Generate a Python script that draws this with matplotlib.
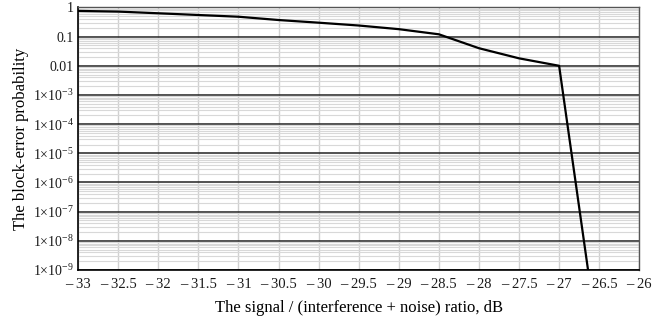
import numpy as np
import matplotlib
matplotlib.use("Agg")
import matplotlib.pyplot as plt
from matplotlib.ticker import FixedLocator, LogLocator, NullFormatter

plt.rcParams['font.family'] = ['Liberation Serif', 'DejaVu Serif']
plt.rcParams['mathtext.fontset'] = 'custom'
plt.rcParams['mathtext.rm'] = 'Liberation Serif'
plt.rcParams['mathtext.it'] = 'Liberation Serif:italic'

# signal / (interference + noise) ratio, dB
snr_db = [-33, -32.5, -32, -31.5, -31, -30.5, -30, -29.5, -29, -28.5,
          -28, -27.5, -27, -26.5]
# block-error probability
bler = [0.76, 0.72, 0.63, 0.55, 0.48, 0.37, 0.30, 0.24, 0.18, 0.12,
        0.04, 0.018, 0.01, 2e-12]

x_ticks = np.arange(-33, -25.9, 0.5)
y_ticks = [1, 0.1, 0.01, 1e-3, 1e-4, 1e-5, 1e-6, 1e-7, 1e-8, 1e-9]


def y_label(v):
    if v >= 0.01:
        return f"{v:g}"
    return r"1×10$^{\mathregular{-%d}}$" % round(-np.log10(v))


def x_label(v):
    s = f"{abs(v):g}"
    return "\u2013 " + s


fig = plt.figure(figsize=(6.68, 3.23), dpi=100)
ax = fig.add_axes([0.117, 0.164, 0.84, 0.813])

ax.plot(snr_db, bler, color='black', lw=1.6, zorder=5)

ax.set_yscale('log')
ax.set_xlim(-33, -26)
ax.set_ylim(1e-9, 1)

ax.xaxis.set_major_locator(FixedLocator(x_ticks))
ax.set_xticklabels([x_label(v) for v in x_ticks])
ax.yaxis.set_major_locator(FixedLocator(y_ticks))
ax.set_yticklabels([y_label(v) for v in y_ticks])
ax.yaxis.set_minor_locator(LogLocator(base=10, subs=np.arange(2, 10), numticks=20))
ax.yaxis.set_minor_formatter(NullFormatter())

ax.grid(True, axis='x', which='major', color='#d0d0d0', lw=1.0)
ax.grid(True, axis='y', which='minor', color='#d8d8d8', lw=0.8)
ax.grid(True, axis='y', which='major', color='#222222', lw=1.1)

ax.tick_params(which='both', length=0, labelsize=10, colors='#1a1a1a')
ax.tick_params(axis='x', pad=6, labelsize=10.5)
ax.tick_params(axis='y', pad=3)

for side in ['left', 'bottom']:
    ax.spines[side].set_color('black')
    ax.spines[side].set_linewidth(1.2)
for side in ['top', 'right']:
    ax.spines[side].set_color('#555555')
    ax.spines[side].set_linewidth(1.0)

ax.set_xlabel("The signal / (interference + noise) ratio, dB", fontsize=12)
ax.set_ylabel("The block-error probability", fontsize=12)
ax.xaxis.set_label_coords(0.5, -0.115)
ax.yaxis.set_label_coords(-0.088, 0.5)

fig.savefig("out.png", dpi=100)
